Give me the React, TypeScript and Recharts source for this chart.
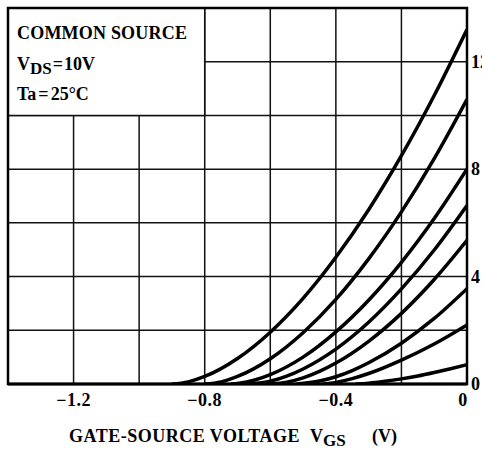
import React from 'react';
import { CartesianGrid, Line, LineChart, ReferenceArea, XAxis, YAxis } from 'recharts';

// gate-source voltage grid (V) and drain current grid (mA)
const VGS_TICKS = [-1.4, -1.2, -1.0, -0.8, -0.6, -0.4, -0.2, 0];
const VGS_LABELS = [-1.2, -0.8, -0.4, 0];
const ID_TICKS = [0, 2, 4, 6, 8, 10, 12, 14];
const ID_LABELS = [0, 4, 8, 12];

// one transfer curve per device, read from the sheet
const curve1 = [
  { v: -0.9, id: 0 }, { v: -0.85, id: 0.08 }, { v: -0.8, id: 0.28 }, { v: -0.7, id: 0.95 },
  { v: -0.6, id: 1.93 }, { v: -0.5, id: 3.19 }, { v: -0.4, id: 4.72 }, { v: -0.3, id: 6.49 },
  { v: -0.2, id: 8.5 }, { v: -0.1, id: 10.74 }, { v: 0, id: 13.2 },
];
const curve2 = [
  { v: -0.8, id: 0 }, { v: -0.75, id: 0.08 }, { v: -0.7, id: 0.28 }, { v: -0.6, id: 0.94 },
  { v: -0.5, id: 1.91 }, { v: -0.4, id: 3.15 }, { v: -0.3, id: 4.66 }, { v: -0.2, id: 6.41 },
  { v: -0.1, id: 8.39 }, { v: 0, id: 10.6 },
];
const curve3 = [
  { v: -0.72, id: 0 }, { v: -0.7, id: 0.02 }, { v: -0.65, id: 0.14 }, { v: -0.6, id: 0.35 },
  { v: -0.5, id: 1.0 }, { v: -0.4, id: 1.94 }, { v: -0.3, id: 3.12 }, { v: -0.2, id: 4.53 },
  { v: -0.1, id: 6.16 }, { v: 0, id: 8.0 },
];
const curve4 = [
  { v: -0.66, id: 0 }, { v: -0.6, id: 0.1 }, { v: -0.55, id: 0.29 }, { v: -0.5, id: 0.56 },
  { v: -0.4, id: 1.3 }, { v: -0.3, id: 2.3 }, { v: -0.2, id: 3.54 }, { v: -0.1, id: 4.99 },
  { v: 0, id: 6.65 },
];
const curve5 = [
  { v: -0.6, id: 0 }, { v: -0.55, id: 0.07 }, { v: -0.5, id: 0.23 }, { v: -0.45, id: 0.47 },
  { v: -0.4, id: 0.78 }, { v: -0.3, id: 1.59 }, { v: -0.2, id: 2.63 }, { v: -0.1, id: 3.89 },
  { v: 0, id: 5.35 },
];
const curve6 = [
  { v: -0.52, id: 0 }, { v: -0.45, id: 0.11 }, { v: -0.4, id: 0.27 }, { v: -0.35, id: 0.5 },
  { v: -0.3, id: 0.79 }, { v: -0.2, id: 1.52 }, { v: -0.1, id: 2.44 }, { v: 0, id: 3.55 },
];
const curve7 = [
  { v: -0.44, id: 0 }, { v: -0.4, id: 0.06 }, { v: -0.35, id: 0.2 }, { v: -0.3, id: 0.39 },
  { v: -0.2, id: 0.89 }, { v: -0.1, id: 1.49 }, { v: 0, id: 2.2 },
];
const curve8 = [
  { v: -0.34, id: 0 }, { v: -0.3, id: 0.03 }, { v: -0.25, id: 0.1 }, { v: -0.2, id: 0.19 },
  { v: -0.15, id: 0.3 }, { v: -0.1, id: 0.43 }, { v: -0.05, id: 0.57 }, { v: 0, id: 0.72 },
];
const CURVES = [curve1, curve2, curve3, curve4, curve5, curve6, curve7, curve8];

const FONT = '"Liberation Serif", "DejaVu Serif", serif';

const XTick = ({ x, y, payload }: any) => {
  if (!VGS_LABELS.includes(payload.value)) return null;
  const v = payload.value;
  const text = v === 0 ? '0' : `\u2212${Math.abs(v).toFixed(1)}`;
  return (
    <text x={v === 0 ? x - 4 : x} y={y + 20} textAnchor="middle" fontFamily={FONT}
      fontWeight="bold" fontSize={18} fill="#000" letterSpacing={0.5}>
      {text}
    </text>
  );
};

const YTick = ({ x, y, payload }: any) => {
  if (!ID_LABELS.includes(payload.value)) return null;
  return (
    <text x={x + 2} y={y + 6} textAnchor="start" fontFamily={FONT}
      fontWeight="bold" fontSize={18} fill="#000">
      {payload.value}
    </text>
  );
};

const XTitle = ({ viewBox }: any) => {
  const { x, y } = viewBox;
  const base = y + 58;
  return (
    <g fontFamily={FONT} fontWeight="bold" fontSize={18} fill="#000">
      <text x={x + 61} y={base} letterSpacing={0.5}>GATE-SOURCE VOLTAGE</text>
      <text x={x + 302} y={base}>
        V<tspan dy={4} fontSize={17}>GS</tspan>
      </text>
      <text x={x + 364} y={base}>(V)</text>
    </g>
  );
};

const Conditions = ({ viewBox }: any) => {
  const { x, y } = viewBox;
  return (
    <g fontFamily={FONT} fontWeight="bold" fontSize={18} fill="#000">
      <text x={x + 9} y={y + 31} letterSpacing={0.2}>COMMON SOURCE</text>
      <text x={x + 9} y={y + 62}>
        V<tspan dy={4} fontSize={17}>DS</tspan>
        <tspan dy={-4} dx={1}>=</tspan>
        <tspan dx={1}>10V</tspan>
      </text>
      <text x={x + 9} y={y + 92}>
        Ta<tspan dx={2}>=</tspan><tspan dx={2}>25°C</tspan>
      </text>
    </g>
  );
};

export default function App() {
  return (
    <div style={{ position: 'fixed', left: 0, top: 0, width: 482, height: 450, background: '#fff' }}>
      <LineChart width={482} height={450} margin={{ top: 8, right: 0, bottom: 0, left: 8 }}>
        <CartesianGrid stroke="#111" strokeWidth={1.5} />
        <XAxis
          type="number"
          dataKey="v"
          domain={[-1.4, 0]}
          ticks={VGS_TICKS}
          allowDataOverflow
          height={66}
          tickLine={false}
          tickSize={0}
          axisLine={{ stroke: '#000', strokeWidth: 3 }}
          tick={<XTick />}
          label={<XTitle />}
        />
        <YAxis
          orientation="right"
          type="number"
          dataKey="id"
          domain={[0, 14]}
          ticks={ID_TICKS}
          allowDataOverflow
          width={15}
          tickLine={false}
          tickSize={0}
          axisLine={false}
          tick={<YTick />}
        />
        <ReferenceArea x1={-1.4} x2={-0.8} y1={10} y2={14} fill="#fff" fillOpacity={1}
          stroke="#111" strokeWidth={1.5} label={<Conditions />} />
        {CURVES.map((c, i) => (
          <Line
            key={i}
            data={c}
            dataKey="id"
            type="monotone"
            stroke="#000"
            strokeWidth={3.5}
            dot={false}
            activeDot={false}
            isAnimationActive={false}
          />
        ))}
        <ReferenceArea x1={-1.4} x2={0} y1={0} y2={14} fill="none" stroke="#000" strokeWidth={2.5} />
      </LineChart>
    </div>
  );
}
